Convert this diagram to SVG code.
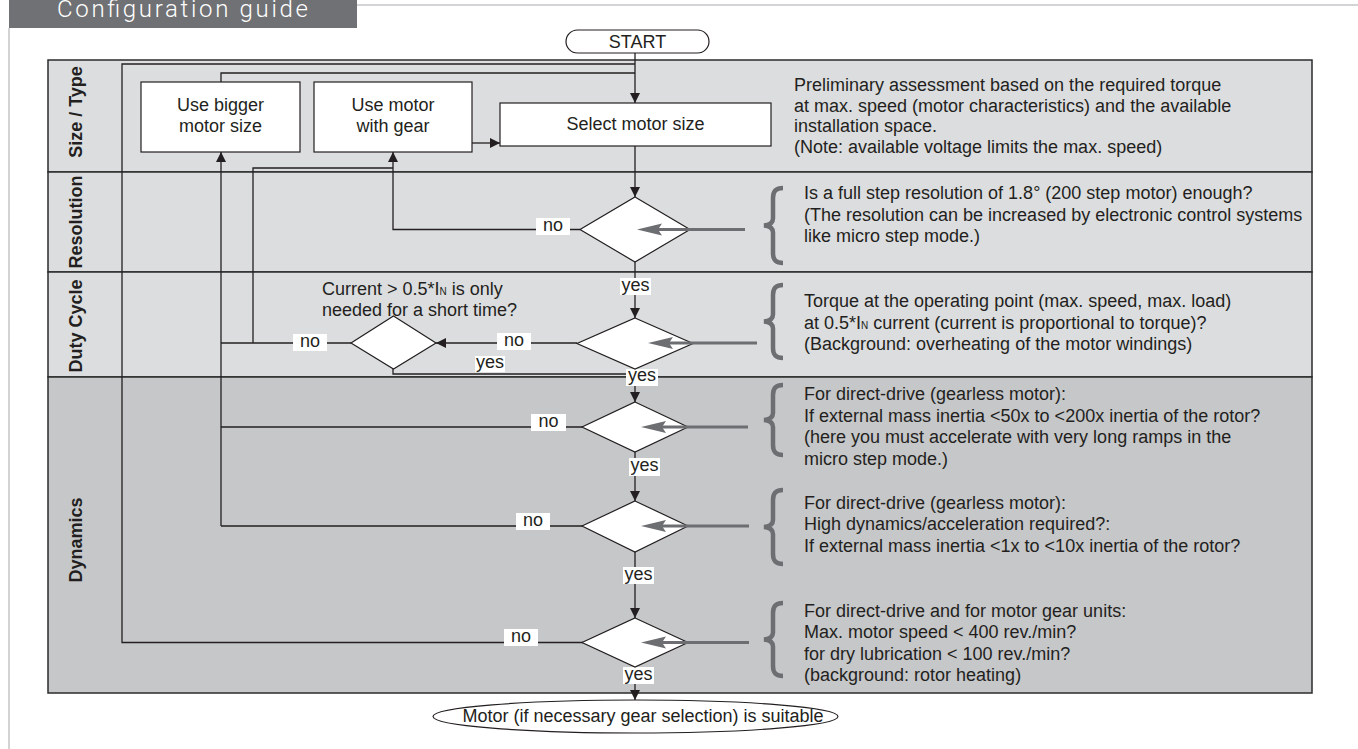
<svg xmlns="http://www.w3.org/2000/svg" width="1358" height="749" viewBox="0 0 1358 749">
<defs>
<style>
.t{font-family:"Liberation Sans",Arial,sans-serif;font-size:18px;fill:#231f20}
.rl{font-family:"Liberation Sans",Arial,sans-serif;font-size:18px;font-weight:bold;fill:#231f20;text-anchor:middle}
.c{text-anchor:middle}
.ln{stroke:#231f20;stroke-width:1.3;fill:none}
.box{fill:#fff;stroke:#231f20;stroke-width:1.2}
.row{stroke:#2b2b2b;stroke-width:1.5}
.lab{fill:#fff}
.br{stroke:#6d6e71;stroke-width:4.5;fill:none}
.ga{stroke:#6d6e71;stroke-width:3}
.gh{fill:#6d6e71}
.sub{font-size:10px}
</style>
<marker id="ah" viewBox="0 0 10 10" refX="10" refY="5" markerWidth="10" markerHeight="10" markerUnits="userSpaceOnUse" orient="auto">
<path d="M0,0 L10,5 L0,10 z" fill="#231f20"/>
</marker>
</defs>
<rect width="1358" height="749" fill="#fff"/>
<g id="header">
<rect x="9" y="0" width="348" height="28" fill="#707174"/>
<text x="57" y="17" font-family="Roboto,'Liberation Sans',sans-serif" font-weight="300" font-size="24" fill="#fff" textLength="251" lengthAdjust="spacing">Configuration guide</text>
<path d="M357,5 H1358" stroke="#a7a9ac" stroke-width="1.2"/>
<path d="M9,28 V749" stroke="#b5b6b8" stroke-width="1.2"/>
</g>
<g id="rows">
<rect class="row" x="48" y="60" width="1264" height="112" fill="#dcdddf"/>
<rect class="row" x="48" y="172" width="1264" height="100" fill="#dcdddf"/>
<rect class="row" x="48" y="272" width="1264" height="105" fill="#dcdddf"/>
<rect class="row" x="48" y="377" width="1264" height="316" fill="#c6c7c9"/>
<text class="rl" transform="translate(82,112) rotate(-90)">Size / Type</text>
<text class="rl" transform="translate(82,222) rotate(-90)">Resolution</text>
<text class="rl" transform="translate(82,326) rotate(-90)">Duty Cycle</text>
<text class="rl" transform="translate(82,540) rotate(-90)">Dynamics</text>
</g>
<g id="connectors">
<path class="ln" d="M635,53 V103" marker-end="url(#ah)"/>
<path class="ln" d="M583,642.5 H122 V64 H635"/>
<path class="ln" d="M221,82 V73 H635"/>
<path class="ln" d="M635,146 V197" marker-end="url(#ah)"/>
<path class="ln" d="M580,229.5 H393 V152" marker-end="url(#ah)"/>
<path class="ln" d="M472,143 H500" marker-end="url(#ah)"/>
<path class="ln" d="M635,262 V318" marker-end="url(#ah)"/>
<path class="ln" d="M577,343 H436" marker-end="url(#ah)"/>
<path class="ln" d="M351,343 H221"/>
<path class="ln" d="M221,526 V152" marker-end="url(#ah)"/>
<path class="ln" d="M583,427 H221"/>
<path class="ln" d="M583,526 H221"/>
<path class="ln" d="M253,343 V168 H393"/>
<path class="ln" d="M393,369 V374 H635"/>
<path class="ln" d="M635,369 V402" marker-end="url(#ah)"/>
<path class="ln" d="M635,452 V501" marker-end="url(#ah)"/>
<path class="ln" d="M635,552 V618" marker-end="url(#ah)"/>
<path class="ln" d="M635,667 V700" marker-end="url(#ah)"/>
<g id="labels">
<rect class="lab" x="536" y="218" width="34" height="17"/><text class="t c" x="553" y="231">no</text>
<rect class="lab" x="620" y="278" width="31" height="17"/><text class="t c" x="635.5" y="291">yes</text>
<rect class="lab" x="497" y="333" width="34" height="17"/><text class="t c" x="514" y="346">no</text>
<rect class="lab" x="293" y="334" width="34" height="17"/><text class="t c" x="310" y="347">no</text>
<rect class="lab" x="475" y="356" width="30" height="16"/><text class="t c" x="490" y="368">yes</text>
<rect class="lab" x="626" y="369" width="32" height="17"/><text class="t c" x="642" y="381">yes</text>
<rect class="lab" x="531" y="414" width="35" height="17"/><text class="t c" x="548.5" y="427">no</text>
<rect class="lab" x="629" y="458" width="31" height="18"/><text class="t c" x="644.5" y="471">yes</text>
<rect class="lab" x="516" y="513" width="34" height="17"/><text class="t c" x="533" y="526">no</text>
<rect class="lab" x="623" y="567" width="31" height="17"/><text class="t c" x="638.5" y="580">yes</text>
<rect class="lab" x="504" y="629" width="34" height="17"/><text class="t c" x="521" y="642">no</text>
<rect class="lab" x="623" y="667" width="31" height="17"/><text class="t c" x="638.5" y="680">yes</text>
</g>
</g>
<g id="start">
<rect class="box" x="566" y="30" width="143" height="23" rx="11.5"/>
<text class="t c" x="637.5" y="47.5">START</text>
</g>
<g id="use-bigger">
<rect class="box" x="141" y="82" width="159" height="70"/>
<text class="t c" x="220.5" y="111">Use bigger</text>
<text class="t c" x="220.5" y="132">motor size</text>
</g>
<g id="use-gear">
<rect class="box" x="314" y="82" width="158" height="70"/>
<text class="t c" x="393" y="111">Use motor</text>
<text class="t c" x="393" y="132">with gear</text>
</g>
<g id="select">
<rect class="box" x="500" y="103" width="271" height="43"/>
<text class="t c" x="635.5" y="130">Select motor size</text>
</g>
<g id="note-size">
<text class="t" x="794" y="91">Preliminary assessment based on the required torque</text>
<text class="t" x="794" y="111.5">at max. speed (motor characteristics) and the available</text>
<text class="t" x="794" y="132">installation space.</text>
<text class="t" x="794" y="152.5">(Note: available voltage limits the max. speed)</text>
</g>
<g id="d-resolution">
<polygon class="box" points="635,197 690,229.5 635,262 580,229.5"/>
<path class="ga" d="M745,229.5 H657"/><polygon class="gh" points="637,229.5 662,223.5 658,229.5 662,235.5"/>
<path class="br" d="M783,188 C776,188 773,191 773,198 L773,218.5 C773,222.5 770,225 764,225.5 C770,226 773,228.5 773,232.5 L773,253 C773,260 776,263 783,263"/>
<text class="t" x="804" y="199">Is a full step resolution of 1.8° (200 step motor) enough?</text>
<text class="t" x="804" y="220.5">(The resolution can be increased by electronic control systems</text>
<text class="t" x="804" y="242">like micro step mode.)</text>
</g>
<g id="d-duty">
<polygon class="box" points="635,318 693,343.5 635,369 577,343.5"/>
<path class="ga" d="M757,343 H668"/><polygon class="gh" points="648,343 673,337 669,343 673,349"/>
<path class="br" d="M783,285 C776,285 773,288 773,295 L773,314.5 C773,318.5 770,321 764,321.5 C770,322 773,324.5 773,328.5 L773,348 C773,355 776,358 783,358"/>
<text class="t" x="804" y="307">Torque at the operating point (max. speed, max. load)</text>
<text class="t" x="804" y="328.5">at 0.5*I<tspan class="sub">N</tspan> current (current is proportional to torque)?</text>
<text class="t" x="804" y="350">(Background: overheating of the motor windings)</text>
</g>
<g id="d-short">
<polygon class="box" points="393.5,316 436,343 393.5,369 351,343"/>
<text class="t" x="322" y="294.5">Current &gt; 0.5*I<tspan class="sub">N</tspan> is only</text>
<text class="t" x="322" y="315.5">needed for a short time?</text>
</g>
<g id="d-dyn1">
<polygon class="box" points="635,402 688,427 635,452 582,427"/>
<path class="ga" d="M748,427 H661"/><polygon class="gh" points="641,427 666,421 662,427 666,433"/>
<path class="br" d="M783,385 C776,385 773,388 773,395 L773,413 C773,417 770,419.5 764,420 C770,420.5 773,423 773,427 L773,445 C773,452 776,455 783,455"/>
<text class="t" x="804" y="400">For direct-drive (gearless motor):</text>
<text class="t" x="804" y="421.5">If external mass inertia &lt;50x to &lt;200x inertia of the rotor?</text>
<text class="t" x="804" y="443">(here you must accelerate with very long ramps in the</text>
<text class="t" x="804" y="464.5">micro step mode.)</text>
</g>
<g id="d-dyn2">
<polygon class="box" points="635,501 688,526 635,552 582,526"/>
<path class="ga" d="M749,526 H661"/><polygon class="gh" points="641,526 666,520 662,526 666,532"/>
<path class="br" d="M783,490 C776,490 773,493 773,500 L773,520 C773,524 770,526.5 764,527 C770,527.5 773,530 773,534 L773,554 C773,561 776,564 783,564"/>
<text class="t" x="804" y="508.5">For direct-drive (gearless motor):</text>
<text class="t" x="804" y="530">High dynamics/acceleration required?:</text>
<text class="t" x="804" y="551.5">If external mass inertia &lt;1x to &lt;10x inertia of the rotor?</text>
</g>
<g id="d-dyn3">
<polygon class="box" points="635,618 688,642.5 635,667 582,642.5"/>
<path class="ga" d="M749,642.5 H661"/><polygon class="gh" points="641,642.5 666,636.5 662,642.5 666,648.5"/>
<path class="br" d="M783,603 C776,603 773,606 773,613 L773,632.5 C773,636.5 770,639 764,639.5 C770,640 773,642.5 773,646.5 L773,666 C773,673 776,676 783,676"/>
<text class="t" x="804" y="616.5">For direct-drive and for motor gear units:</text>
<text class="t" x="804" y="638">Max. motor speed &lt; 400 rev./min?</text>
<text class="t" x="804" y="659.5">for dry lubrication &lt; 100 rev./min?</text>
<text class="t" x="804" y="681">(background: rotor heating)</text>
</g>
<g id="end">
<ellipse class="box" cx="635.5" cy="716.5" rx="202.5" ry="16.5"/>
<text class="t c" x="643" y="722">Motor (if necessary gear selection) is suitable</text>
</g>
</svg>
